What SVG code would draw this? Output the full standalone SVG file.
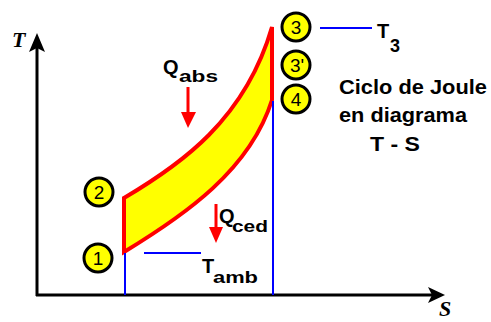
<svg xmlns="http://www.w3.org/2000/svg" width="491" height="322" viewBox="0 0 491 322">
<style>
.num{font-family:"Liberation Sans",Arial,sans-serif;font-size:19px;text-anchor:middle;fill:#000}
.lbl{font-family:"Liberation Sans",Arial,sans-serif;font-weight:bold;fill:#000}
.ax{font-family:"Liberation Serif","Times New Roman",serif;font-weight:bold;font-style:italic;font-size:22px;fill:#000}
.circ{fill:#ffff00;stroke:#000;stroke-width:3}
.blue{stroke:#0000ff;stroke-width:2;fill:none}
.axis{stroke:#000;stroke-width:3;fill:none}
.red{stroke:#ff0000;stroke-width:3;fill:none}
</style>
<rect width="491" height="322" fill="#fff"/>
<g id="cycle">
<path d="M124,198 C180,165 245,120 272,27 L272,100 C250,170 185,215 124,252 Z" fill="#ffff00" stroke="#ff0000" stroke-width="4" stroke-linejoin="miter"/>
</g>
<g id="connectors">
<line class="axis" x1="37" y1="296" x2="37" y2="48"/>
<polygon points="29,52 37,33 45,52 37,48" fill="#000"/>
<line class="axis" x1="36" y1="295" x2="432" y2="295"/>
<polygon points="428,287 445,295 428,303 432,295" fill="#000"/>
<line class="blue" x1="125" y1="253" x2="125" y2="295"/>
<line class="blue" x1="273" y1="101" x2="273" y2="295"/>
<line class="blue" x1="144" y1="253" x2="201" y2="253"/>
<line class="blue" x1="320" y1="28" x2="372" y2="28"/>
<line class="red" x1="188" y1="87" x2="188" y2="114"/>
<polygon points="181,112 196,112 188,128" fill="#ff0000"/>
<line class="red" x1="216" y1="204" x2="216" y2="229"/>
<polygon points="209,227 223,227 216,243" fill="#ff0000"/>
</g>
<g id="node1"><circle class="circ" cx="98" cy="258" r="14"/><text class="num" x="98" y="265">1</text></g>
<g id="node2"><circle class="circ" cx="99" cy="192" r="14"/><text class="num" x="99" y="199">2</text></g>
<g id="node3"><circle class="circ" cx="296" cy="27" r="14"/><text class="num" x="296" y="34">3</text></g>
<g id="node3p"><circle class="circ" cx="296" cy="65" r="14"/><text class="num" x="297" y="72">3'</text></g>
<g id="node4"><circle class="circ" cx="296" cy="99" r="14"/><text class="num" x="296" y="106">4</text></g>
<g id="labels">
<text class="ax" x="12" y="47">T</text>
<text class="ax" x="439" y="316" font-size="19">S</text>
<text class="lbl" x="163" y="74" font-size="20">Q</text>
<text class="lbl" x="179" y="82" font-size="17" textLength="39" lengthAdjust="spacingAndGlyphs">abs</text>
<text class="lbl" x="219" y="223" font-size="20">Q</text>
<text class="lbl" x="232" y="232" font-size="17" textLength="36" lengthAdjust="spacingAndGlyphs">ced</text>
<text class="lbl" x="202" y="273" font-size="20">T</text>
<text class="lbl" x="213" y="283" font-size="17" textLength="45" lengthAdjust="spacingAndGlyphs">amb</text>
<text class="lbl" x="377" y="38" font-size="20">T</text>
<text class="lbl" x="390" y="52" font-size="18">3</text>
<text class="lbl" x="339" y="94" font-size="21" textLength="148" lengthAdjust="spacingAndGlyphs">Ciclo de Joule</text>
<text class="lbl" x="339" y="122" font-size="21" textLength="128" lengthAdjust="spacingAndGlyphs">en diagrama</text>
<text class="lbl" x="370" y="151" font-size="21" textLength="50" lengthAdjust="spacingAndGlyphs">T - S</text>
</g>
</svg>
